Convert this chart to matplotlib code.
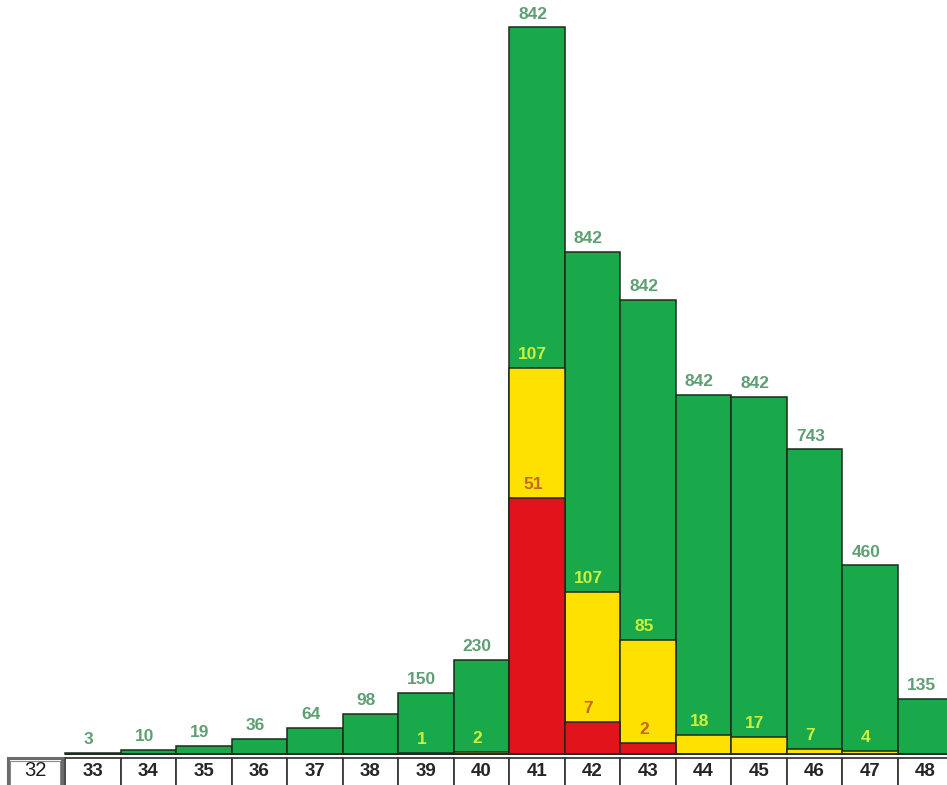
import matplotlib
matplotlib.use("Agg")
import matplotlib.pyplot as plt
from matplotlib.patches import Rectangle
from matplotlib.transforms import blended_transform_factory

# Categories along the bottom row (32 is a header cell with no bar)
categories = list(range(32, 49))

# Bar heights of each layer and the numbers printed on them
green_height = [0, 3, 10, 19, 36, 64, 98, 150, 230, 1772, 1224, 1107, 876, 871, 743, 460, 135]
green_label = [None, 3, 10, 19, 36, 64, 98, 150, 230, 842, 842, 842, 842, 842, 743, 460, 135]
yellow_height = [0, 0, 0, 0, 0, 0, 0, 3, 6, 941, 395, 278, 46, 42, 12, 8, 0]
yellow_label = [None] * 7 + [1, 2, 107, 107, 85, 18, 17, 7, 4, None]
red_height = [0] * 9 + [624, 78, 28] + [0] * 5
red_label = [None] * 9 + [51, 7, 2] + [None] * 5

W, H, DPI = 947, 785, 100
plt.rcParams['font.family'] = ['Liberation Sans', 'DejaVu Sans']

fig = plt.figure(figsize=(W / DPI, H / DPI), dpi=DPI)
ax = fig.add_axes([0, 0, 1, 1])
ax.set_axis_off()

px_per_cat = 55.5
px_per_unit = 0.41
base_px = 31  # baseline height above bottom edge
ax.set_xlim(0.5 - 65 / px_per_cat, 0.5 + (W - 65) / px_per_cat)
ax.set_ylim(-base_px / px_per_unit, (H - base_px) / px_per_unit)

GREEN = '#19a94a'
YELLOW = '#ffe100'
RED = '#e0141a'
EDGE = '#1d2a1d'

idx = list(range(1, len(categories)))
ax.bar(idx, [green_height[i] for i in idx], width=1.0, color=GREEN,
       edgecolor=EDGE, linewidth=1.1, zorder=2)
ax.bar(idx, [yellow_height[i] for i in idx], width=1.0, color=YELLOW,
       edgecolor=EDGE, linewidth=1.1, zorder=3)
ax.bar(idx, [red_height[i] for i in idx], width=1.0, color=RED,
       edgecolor=EDGE, linewidth=1.1, zorder=4)


def put_label(x, y, text, color):
    ax.annotate(str(text), xy=(x, y), xytext=(-2.8, 9.6), textcoords='offset points',
                ha='center', va='center', fontsize=12.5, fontweight='bold',
                color=color, zorder=6)


for i in idx:
    if green_label[i] is not None:
        put_label(i, green_height[i], green_label[i], '#5f9f74')
    if yellow_label[i] is not None:
        put_label(i, yellow_height[i], yellow_label[i], '#cdf03c')
    if red_label[i] is not None:
        put_label(i, red_height[i], red_label[i], '#c9651c')

# Category row below the bars
tr = blended_transform_factory(ax.transData, ax.transAxes)


def yfrac(px):
    return 1 - px / H


row_top, row_bot = 758, 788
for i in idx:
    ax.add_patch(Rectangle((i - 0.5, yfrac(row_bot)), 1.0, yfrac(row_top) - yfrac(row_bot),
                           transform=tr, facecolor='white', edgecolor='#3a3a3a',
                           linewidth=1.3, clip_on=False, zorder=5))
    ax.text(i, yfrac(771), str(categories[i]), transform=tr, ha='center', va='center',
            fontsize=13.5, fontweight='bold', color='#262626', zorder=6)

# Header cell with a double border
ax.add_patch(Rectangle((-0.53, yfrac(row_bot)), 0.975, yfrac(row_top) - yfrac(row_bot),
                       transform=tr, facecolor='white', edgecolor='#6a6a6a',
                       linewidth=2.2, clip_on=False, zorder=5))
ax.add_patch(Rectangle((-0.49, yfrac(row_bot)), 0.895, yfrac(row_top + 3) - yfrac(row_bot),
                       transform=tr, facecolor='none', edgecolor='#8a8a8a',
                       linewidth=0.8, clip_on=False, zorder=5))
ax.text(-0.04, yfrac(771), str(categories[0]), transform=tr, ha='center', va='center',
        fontsize=14.5, color='#1e1e1e', zorder=6)

fig.savefig('out.png', dpi=DPI, facecolor='white')
